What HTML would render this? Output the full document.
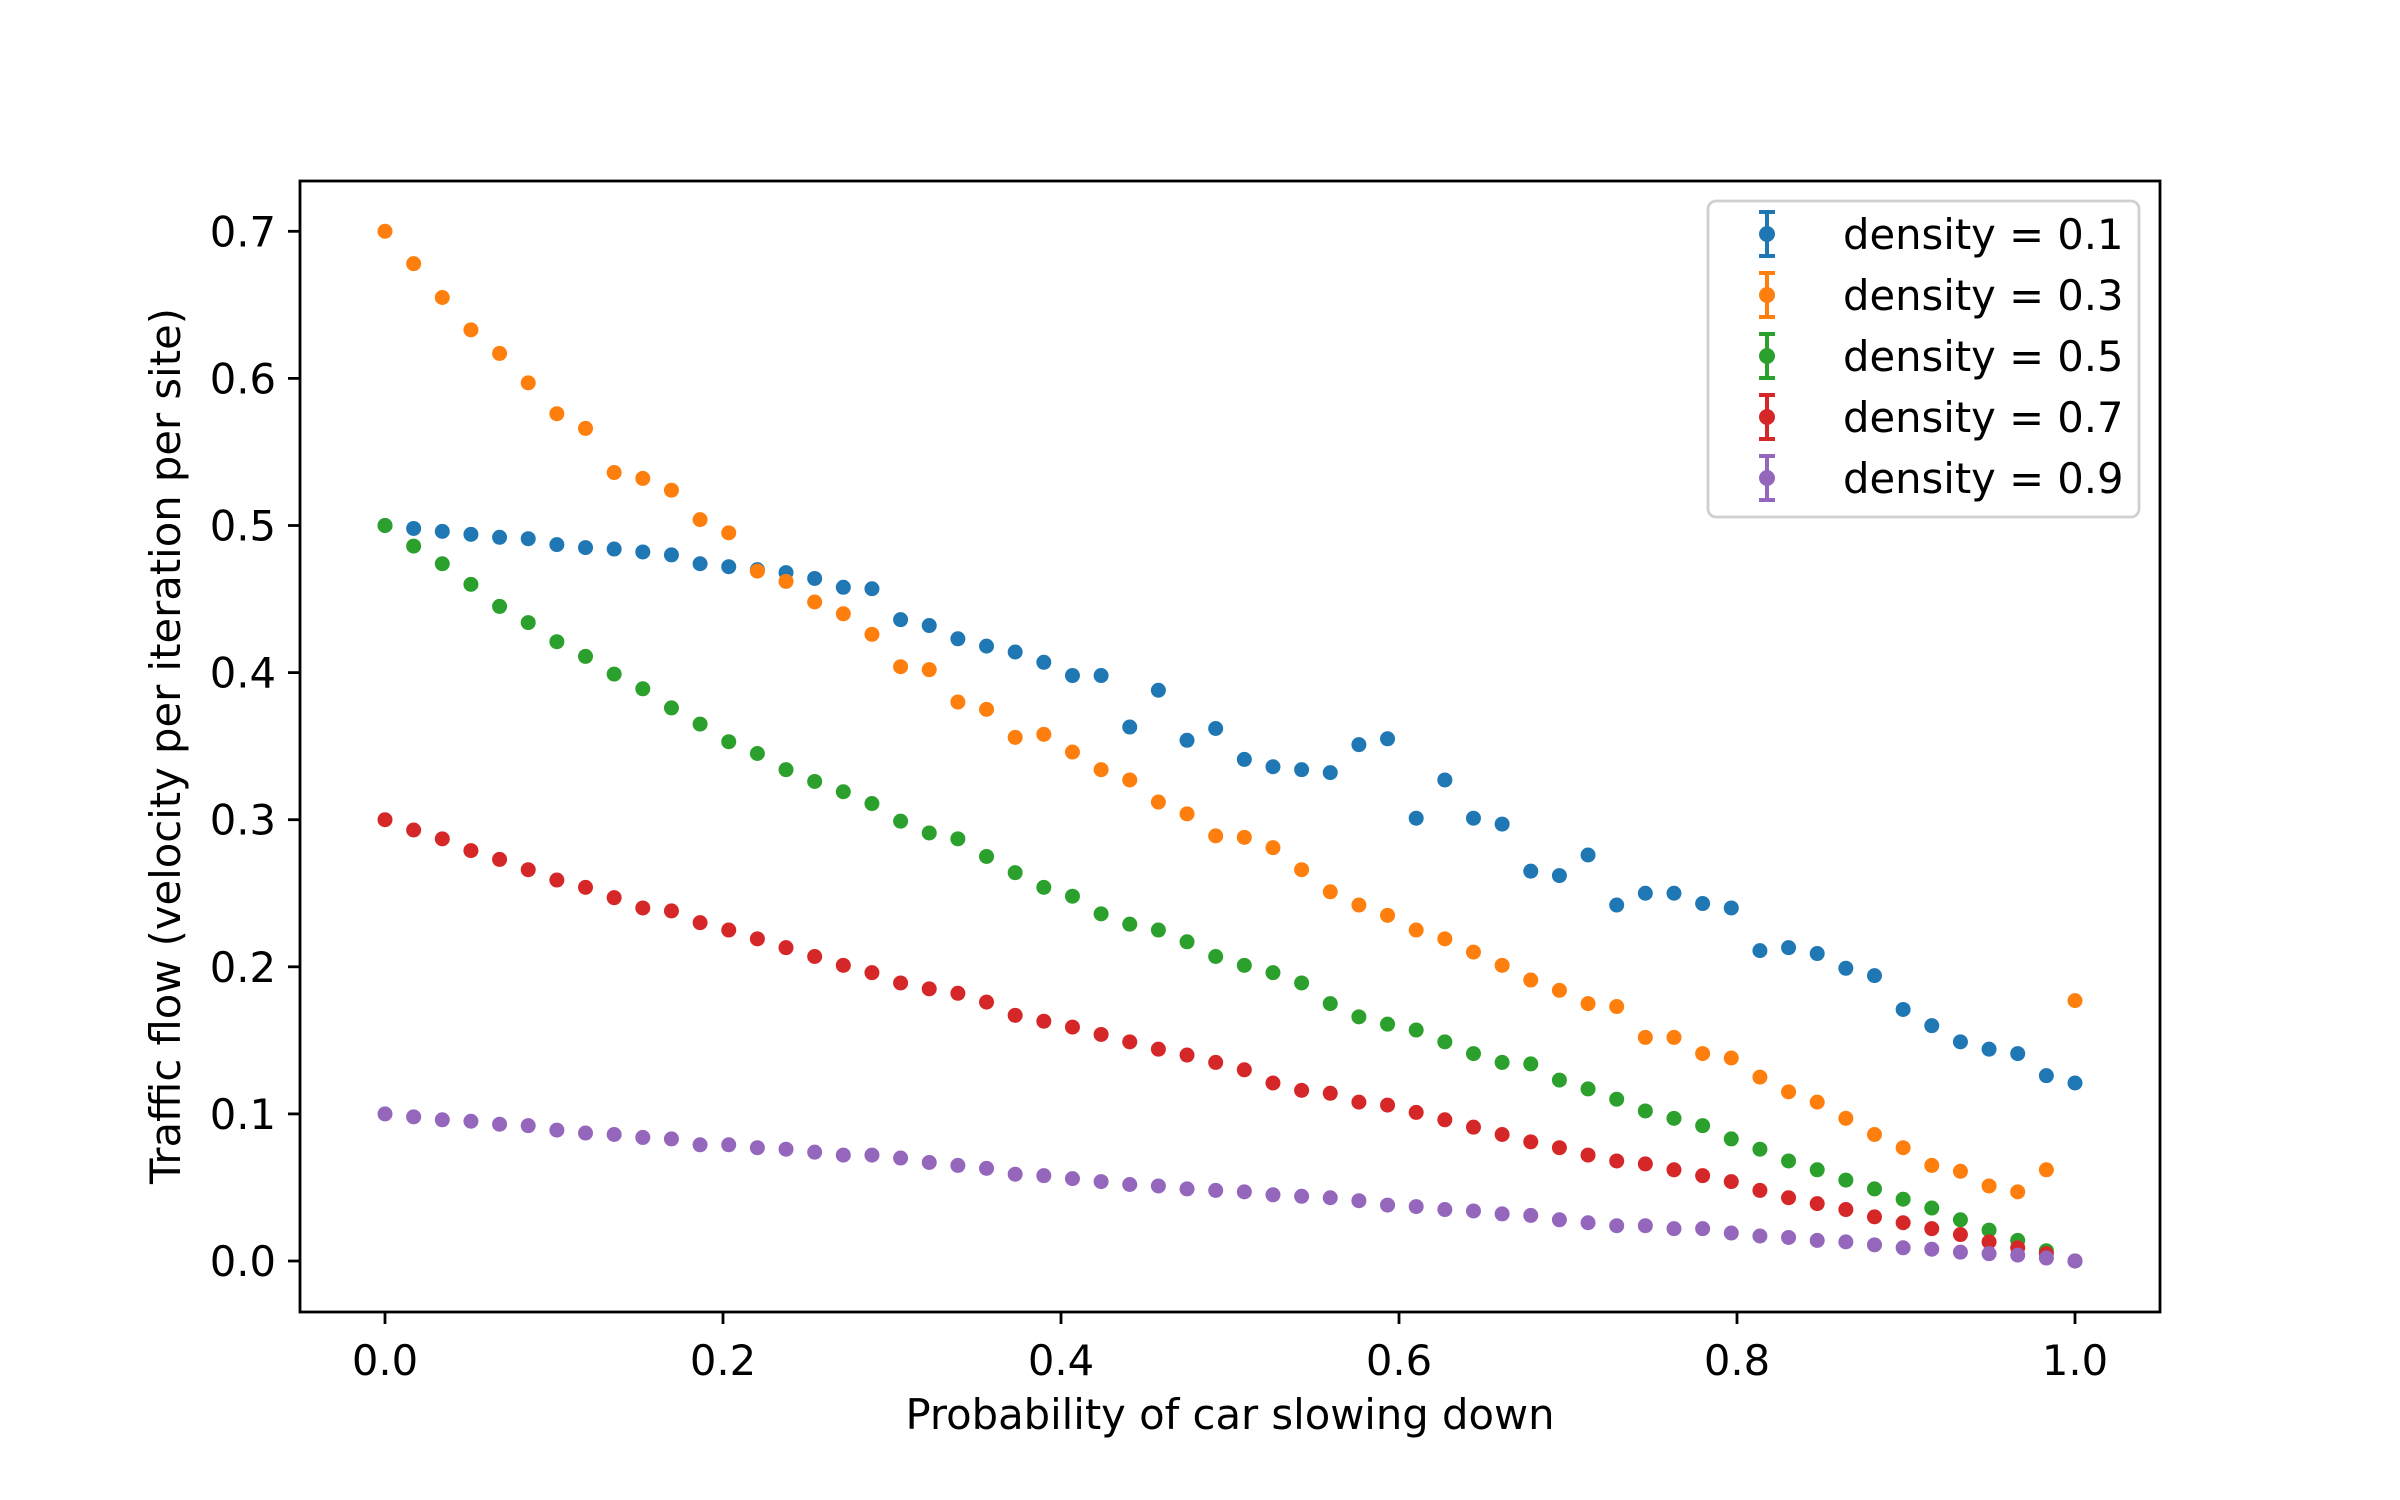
<!DOCTYPE html>
<html><head><meta charset="utf-8"><style>
html,body{margin:0;padding:0;background:#fff;}
svg{display:block;font-family:"DejaVu Sans","Liberation Sans",sans-serif;}
</style></head><body>
<svg id="chart" width="2400" height="1500" viewBox="0 0 2400 1500" xmlns="http://www.w3.org/2000/svg">
<rect x="0" y="0" width="2400" height="1500" fill="#fff"/>
<g id="plot"></g>
<g id="axes"></g>
<g id="legend"></g>
</svg>
<script>
const xTicks = [0.0, 0.2, 0.4, 0.6, 0.8, 1.0];
const xTickLabels = ["0.0","0.2","0.4","0.6","0.8","1.0"];
const yTicks = [0.0,0.1,0.2,0.3,0.4,0.5,0.6,0.7];
const yTickLabels = ["0.0","0.1","0.2","0.3","0.4","0.5","0.6","0.7"];
const seriesNames = ["density = 0.1","density = 0.3","density = 0.5","density = 0.7","density = 0.9"];
const pointCount = 60;
const blueValues = [0.500,0.498,0.496,0.494,0.492,0.491,0.487,0.485,0.484,0.482,0.480,0.474,0.472,0.470,0.468,0.464,0.458,0.457,0.436,0.432,0.423,0.418,
0.414,0.407,0.398,0.398,0.363,0.388,0.354,0.362,0.341,0.336,0.334,0.332,0.351,0.355,0.301,0.327,0.301,0.297,0.265,0.262,0.276,0.242,
0.250,0.250,0.243,0.240,0.211,0.213,0.209,0.199,0.194,0.171,0.160,0.149,0.144,0.141,0.126,0.121];
const orangeValues = [0.700,0.678,0.655,0.633,0.617,0.597,0.576,0.566,0.536,0.532,0.524,0.504,0.495,0.469,0.462,0.448,0.440,0.426,0.404,0.402,0.380,0.375,
0.356,0.358,0.346,0.334,0.327,0.312,0.304,0.289,0.288,0.281,0.266,0.251,0.242,0.235,0.225,0.219,0.210,0.201,0.191,0.184,0.175,0.173,
0.152,0.152,0.141,0.138,0.125,0.115,0.108,0.097,0.086,0.077,0.065,0.061,0.051,0.047,0.062,0.177];
const greenValues = [0.500,0.486,0.474,0.460,0.445,0.434,0.421,0.411,0.399,0.389,0.376,0.365,0.353,0.345,0.334,0.326,0.319,0.311,0.299,0.291,0.287,0.275,
0.264,0.254,0.248,0.236,0.229,0.225,0.217,0.207,0.201,0.196,0.189,0.175,0.166,0.161,0.157,0.149,0.141,0.135,0.134,0.123,0.117,0.110,
0.102,0.097,0.092,0.083,0.076,0.068,0.062,0.055,0.049,0.042,0.036,0.028,0.021,0.014,0.007,0.000];
const redValues = [0.300,0.293,0.287,0.279,0.273,0.266,0.259,0.254,0.247,0.240,0.238,0.230,0.225,0.219,0.213,0.207,0.201,0.196,0.189,0.185,0.182,0.176,
0.167,0.163,0.159,0.154,0.149,0.144,0.140,0.135,0.130,0.121,0.116,0.114,0.108,0.106,0.101,0.096,0.091,0.086,0.081,0.077,0.072,0.068,
0.066,0.062,0.058,0.054,0.048,0.043,0.039,0.035,0.030,0.026,0.022,0.018,0.013,0.009,0.005,0.000];
const purpleValues = [0.100,0.098,0.096,0.095,0.093,0.092,0.089,0.087,0.086,0.084,0.083,0.079,0.079,0.077,0.076,0.074,0.072,0.072,0.070,0.067,0.065,0.063,
0.059,0.058,0.056,0.054,0.052,0.051,0.049,0.048,0.047,0.045,0.044,0.043,0.041,0.038,0.037,0.035,0.034,0.032,0.031,0.028,0.026,0.024,
0.024,0.022,0.022,0.019,0.017,0.016,0.014,0.013,0.011,0.009,0.008,0.006,0.005,0.004,0.002,0.000];
const allSeries = [blueValues, orangeValues, greenValues, redValues, purpleValues];
const colors = ["#1f77b4","#ff7f0e","#2ca02c","#d62728","#9467bd"];

const NS = "http://www.w3.org/2000/svg";
const AX = {left:300, right:2160, top:181, bottom:1312};
const X0 = 385, XS = 1690, Y0 = 1261, YS = 1471;
const FS = 41.7;
function xScale(v){ return X0 + v*XS; }
function yScale(v){ return Y0 - v*YS; }
function mk(tag, attrs, parent){ const e=document.createElementNS(NS,tag); for(const k in attrs) e.setAttribute(k,attrs[k]); parent.appendChild(e); return e; }

const plot = document.getElementById('plot');
allSeries.forEach((vals, s) => {
  const g = mk('g', {}, plot);
  
  
  vals.forEach((v, i) => {
    const xv = i/(pointCount-1);
    const c = mk('circle', {cx:xScale(xv), cy:yScale(v), r:7.5, fill:colors[s]}, g);
    
    
  });
});

const axes = document.getElementById('axes');
const frame = mk('rect', {x:AX.left, y:AX.top, width:AX.right-AX.left, height:AX.bottom-AX.top, fill:'none', stroke:'#000', 'stroke-width':2.8}, axes);


xTicks.forEach((t, i) => {
  const x = xScale(t);
  const tk = mk('line', {x1:x, x2:x, y1:AX.bottom, y2:AX.bottom+12, stroke:'#000','stroke-width':2.8}, axes);
  
  
  const tx = mk('text', {x:x, y:AX.bottom+63, 'text-anchor':'middle', 'font-size':FS, fill:'#000'}, axes);
  tx.textContent = xTickLabels[i];
  
  
});
yTicks.forEach((t, i) => {
  const y = yScale(t);
  const tk = mk('line', {x1:AX.left-12, x2:AX.left, y1:y, y2:y, stroke:'#000','stroke-width':2.8}, axes);
  
  
  const tx = mk('text', {x:AX.left-24, y:y+15, 'text-anchor':'end', 'font-size':FS, fill:'#000'}, axes);
  tx.textContent = yTickLabels[i];
  
  
});
const xl = mk('text', {x:(AX.left+AX.right)/2, y:1429, 'text-anchor':'middle', 'font-size':FS, fill:'#000'}, axes);
xl.textContent = 'Probability of car slowing down';


const yl = mk('text', {x:0, y:0, 'text-anchor':'middle', 'font-size':FS, fill:'#000', transform:'translate(180,746) rotate(-90)'}, axes);
yl.textContent = 'Traffic flow (velocity per iteration per site)';



const legend = document.getElementById('legend');
const box = mk('rect', {x:1708, y:201, width:431, height:316, rx:8, fill:'#fff', 'fill-opacity':0.8, stroke:'#d0d0d0', 'stroke-width':2.8}, legend);


seriesNames.forEach((name, s) => {
  const cy = 234 + s*61;
  const g = mk('g', {}, legend);
  
  
  mk('line', {x1:1767, x2:1767, y1:cy-22, y2:cy+22, stroke:colors[s], 'stroke-width':4}, g);
  mk('line', {x1:1759, x2:1775, y1:cy-22, y2:cy-22, stroke:colors[s], 'stroke-width':4}, g);
  mk('line', {x1:1759, x2:1775, y1:cy+22, y2:cy+22, stroke:colors[s], 'stroke-width':4}, g);
  mk('circle', {cx:1767, cy:cy, r:8, fill:colors[s]}, g);
  const t = mk('text', {x:1843, y:cy+15, 'font-size':FS, fill:'#000'}, g);
  t.textContent = name;
});
</script>
</body></html>
